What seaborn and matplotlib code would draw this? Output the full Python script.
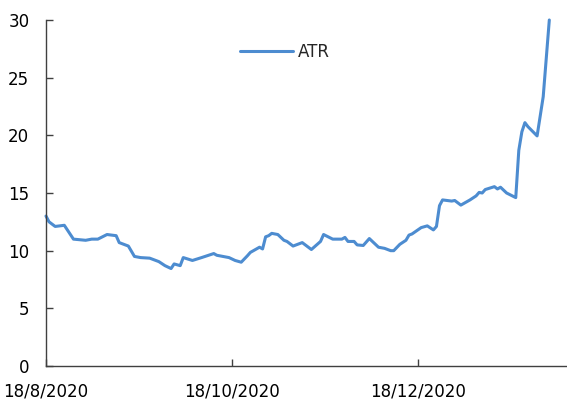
import pandas as pd
import seaborn as sns
import matplotlib
matplotlib.use("Agg")
import matplotlib.pyplot as plt
import matplotlib.dates as mdates
from matplotlib.ticker import FuncFormatter

# ATR values
dates = ["2020-08-18", "2020-08-19", "2020-08-21", "2020-08-24", "2020-08-25",
         "2020-08-27", "2020-08-31", "2020-09-02", "2020-09-04", "2020-09-07",
         "2020-09-10", "2020-09-11", "2020-09-14", "2020-09-16", "2020-09-18",
         "2020-09-21", "2020-09-24", "2020-09-26", "2020-09-28", "2020-09-29",
         "2020-10-01", "2020-10-02", "2020-10-05", "2020-10-08", "2020-10-12",
         "2020-10-13", "2020-10-15", "2020-10-17", "2020-10-19", "2020-10-21",
         "2020-10-23", "2020-10-24", "2020-10-27", "2020-10-28", "2020-10-29",
         "2020-10-30", "2020-10-31", "2020-11-02", "2020-11-04", "2020-11-05",
         "2020-11-07", "2020-11-10", "2020-11-13", "2020-11-16", "2020-11-17",
         "2020-11-20", "2020-11-23", "2020-11-24", "2020-11-25", "2020-11-27",
         "2020-11-28", "2020-11-30", "2020-12-02", "2020-12-05", "2020-12-07",
         "2020-12-09", "2020-12-10", "2020-12-12", "2020-12-14", "2020-12-15",
         "2020-12-16", "2020-12-19", "2020-12-21", "2020-12-23", "2020-12-24",
         "2020-12-25", "2020-12-26", "2020-12-29", "2020-12-30", "2021-01-01",
         "2021-01-04", "2021-01-06", "2021-01-07", "2021-01-08", "2021-01-09",
         "2021-01-12", "2021-01-13", "2021-01-14", "2021-01-16", "2021-01-19",
         "2021-01-20", "2021-01-21", "2021-01-22", "2021-01-23", "2021-01-26",
         "2021-01-28", "2021-01-30"]

atr = [13.0, 12.5, 12.1, 12.2, 11.8,
       11.0, 10.9, 11.0, 11.0, 11.4,
       11.3, 10.7, 10.4, 9.5, 9.4,
       9.35, 9.05, 8.7, 8.45, 8.85,
       8.7, 9.4, 9.15, 9.4, 9.75,
       9.6, 9.5, 9.4, 9.15, 9.0,
       9.55, 9.85, 10.3, 10.15, 11.2,
       11.3, 11.5, 11.4, 10.9, 10.8,
       10.4, 10.7, 10.1, 10.8, 11.4,
       11.0, 11.0, 11.15, 10.8, 10.8,
       10.5, 10.45, 11.05, 10.3, 10.2,
       10.0, 10.0, 10.55, 10.9, 11.35,
       11.45, 12.0, 12.15, 11.8, 12.1,
       13.9, 14.4, 14.3, 14.35, 13.95,
       14.4, 14.75, 15.05, 15.0, 15.3,
       15.55, 15.35, 15.5, 15.0, 14.6,
       18.7, 20.3, 21.1, 20.75, 19.95,
       23.35, 30.0]

tick_dates = ["2020-08-18", "2020-10-18", "2020-12-18"]
y_ticks = [0, 5, 10, 15, 20, 25, 30]

df = pd.DataFrame({"Date": pd.to_datetime(dates), "ATR": atr})

sns.set_theme(style="white")
plt.rcParams['font.family'] = ['DejaVu Sans']

fig = plt.figure(figsize=(5.67, 4.05), dpi=100)
ax = fig.add_axes([46 / 567, 39 / 405, 1 - 46 / 567, (366 - 20) / 405])

sns.lineplot(x="Date", y="ATR", data=df, ax=ax, color="#4d8cd0",
             linewidth=2.2, label="ATR", clip_on=False)

start = pd.Timestamp("2020-08-18")
ax.set_xlim(start, start + pd.Timedelta(days=170.8))
ax.set_ylim(0, 30)
ax.set_xticks(pd.to_datetime(tick_dates))
ax.set_yticks(y_ticks)
ax.xaxis.set_major_formatter(FuncFormatter(
    lambda v, p: "{d.day}/{d.month}/{d.year}".format(d=mdates.num2date(v))))

ax.set_xlabel("")
ax.set_ylabel("")
for side in ["top", "right"]:
    ax.spines[side].set_visible(False)
for side in ["left", "bottom"]:
    ax.spines[side].set_color("#404040")
    ax.spines[side].set_linewidth(1.0)

ax.tick_params(axis="both", direction="in", length=5, width=1.0,
               color="#404040", labelsize=12, labelcolor="black", pad=12)
ax.tick_params(axis="x", bottom=True)
ax.tick_params(axis="y", left=True)

ax.legend(loc="center left", bbox_to_anchor=(240 / 567, 1 - 52 / 405),
          bbox_transform=fig.transFigure, frameon=False, fontsize=12,
          handlelength=3.2, handletextpad=0.3, borderpad=0, borderaxespad=0)

fig.savefig("out.png", dpi=100)
